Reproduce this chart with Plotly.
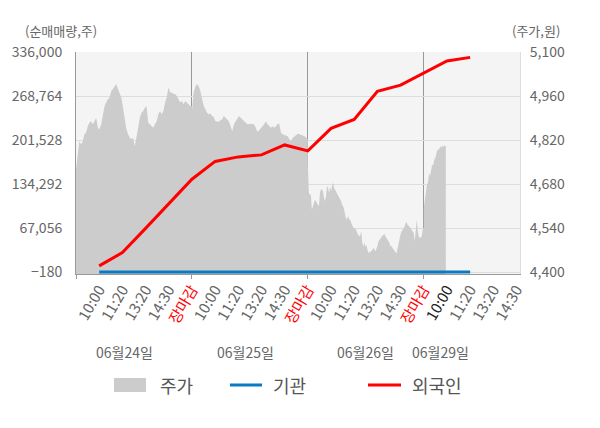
import numpy as np
import plotly.graph_objects as go

FONT = "Noto Sans CJK KR"

# x axis slots (5 per trading day)
TICK_TEXT = [
    "10:00", "11:20", "13:20", "14:30", "장마감",
    "10:00", "11:20", "13:20", "14:30", "장마감",
    "10:00", "11:20", "13:20", "14:30", "장마감",
    "10:00", "11:20", "13:20", "14:30",
]
DATES = ["06월24일", "06월25일", "06월26일", "06월29일"]
DATE_POS = [2.1, 7.3, 12.5, 15.7]
DAY_BOUNDS = [0, 5, 10, 15]

LEFT_TICKS = [-180, 67056, 134292, 201528, 268764, 336000]
RIGHT_TICKS = [4400, 4540, 4680, 4820, 4960, 5100]

# 주가 (intraday, one list per day)
price_d1 = [4726, 4780, 4816, 4806, 4816, 4838, 4844, 4864, 4875, 4880, 4870, 4880,
            4891, 4859, 4854, 4870, 4902, 4928, 4939, 4950, 4955, 4976, 4982, 4992,
            4998, 4982, 4971, 4955, 4923, 4886, 4854, 4838, 4827, 4822, 4827, 4800,
            4838, 4859, 4891, 4907, 4912, 4923, 4928, 4875, 4870, 4864, 4859, 4870,
            4880, 4902, 4912, 4902, 4912, 4939, 4955, 4987, 4971, 4971, 4966, 4966,
            4960, 4950, 4939, 4944, 4934, 4944, 4939, 4934, 4928, 4928]
price_d2 = [4912, 4971, 4989, 4998, 4992, 4976, 4950, 4928, 4918, 4907, 4902, 4904,
            4896, 4893, 4880, 4880, 4878, 4883, 4886, 4896, 4891, 4886, 4880, 4864,
            4848, 4870, 4880, 4886, 4896, 4891, 4886, 4880, 4875, 4870, 4870, 4872,
            4870, 4870, 4859, 4846, 4851, 4859, 4864, 4870, 4880, 4870, 4864, 4859,
            4864, 4859, 4864, 4872, 4872, 4843, 4838, 4836, 4836, 4832, 4822, 4816,
            4827, 4832, 4838, 4840, 4838, 4836, 4832, 4832, 4827, 4822]
price_d3 = [4742, 4651, 4646, 4646, 4598, 4609, 4614, 4630, 4625, 4620, 4614, 4609,
            4651, 4664, 4662, 4657, 4636, 4625, 4641, 4673, 4668, 4651, 4673, 4657,
            4673, 4685, 4668, 4662, 4651, 4646, 4641, 4636, 4632, 4625, 4614, 4609,
            4598, 4577, 4566, 4572, 4577, 4566, 4566, 4556, 4547, 4543, 4536, 4540,
            4529, 4524, 4518, 4513, 4518, 4529, 4492, 4481, 4494, 4481, 4486, 4476,
            4460, 4465, 4462, 4468, 4470, 4476, 4473, 4465, 4473, 4483, 4497, 4502,
            4508, 4513, 4515, 4518, 4521, 4513, 4508, 4502, 4497, 4492, 4481, 4483,
            4476, 4470, 4465, 4462, 4460, 4476, 4497, 4513, 4521, 4529, 4534, 4540,
            4545, 4556, 4558, 4550, 4547, 4543, 4540, 4534, 4529, 4524, 4497, 4532,
            4566, 4534, 4513, 4508, 4511, 4513, 4536, 4540]
price_d4 = [4604, 4636, 4662, 4678, 4685, 4715, 4705, 4721, 4742, 4739, 4758, 4763,
            4784, 4790, 4788, 4795, 4800, 4795, 4803, 4798, 4803, 4800]

# 순매매량 (cumulative), one point per slot from the first 10:00
flow_x = [1, 2, 3, 4, 5, 6, 7, 8, 9, 10, 11, 12, 13, 14, 15, 16, 17]
inst = [0, 0, 0, 0, 0, 0, 0, 0, 0, 0, 0, 0, 0, 0, 0, 0, 0]
foreign = [9200, 29500, 66500, 104700, 141600, 168800, 175700, 178800, 194000,
           184900, 219300, 233000, 275800, 285300, 304100, 322400, 327800]

GRAY = "#cccccc"
BLUE = "#0a7ac4"
RED = "#ff0000"


def price_series():
    xs, ys = [], []
    spans = [(0, 5), (5, 10), (10, 15), (15, 15.95)]
    for (a, b), day in zip(spans, [price_d1, price_d2, price_d3, price_d4]):
        xs.extend(np.linspace(a, b, len(day)))
        ys.extend(day)
    return xs, ys


def padded(ticks, px_below=2, px_span=220):
    # leave a couple of pixels under the lowest tick so the flat line is not clipped
    step = (ticks[-1] - ticks[0]) / px_span
    return [ticks[0] - px_below * step, ticks[-1]]


def tick_label(t, i):
    if t == "장마감":
        return '<span style="color:#ff0000">%s</span>' % t
    if i == 15:
        return '<span style="color:#222222">%s</span>' % t
    return t


fig = go.Figure()
px_, py_ = price_series()
fig.add_trace(go.Scatter(
    x=px_, y=py_, name="주가", mode="lines", line=dict(width=0, color=GRAY),
    fill="tozeroy", fillcolor=GRAY, yaxis="y",
))
fig.add_trace(go.Scatter(
    x=flow_x, y=inst, name="기관", mode="lines", line=dict(width=3, color=BLUE),
    yaxis="y2",
))
fig.add_trace(go.Scatter(
    x=flow_x, y=foreign, name="외국인", mode="lines", line=dict(width=3, color=RED),
    yaxis="y2",
))

annotations = [
    dict(text=d, x=p, y=-0.3514, xref="x", yref="paper", showarrow=False,
         font=dict(size=14, color="#666666"), xanchor="center", yanchor="middle")
    for d, p in zip(DATES, DATE_POS)
]
annotations += [
    dict(text="(순매매량,주)", x=-0.034, y=1.095, xref="paper", yref="paper",
         showarrow=False, font=dict(size=13, color="#666666"),
         xanchor="center", yanchor="middle"),
    dict(text="(주가,원)", x=1.036, y=1.095, xref="paper", yref="paper",
         showarrow=False, font=dict(size=13, color="#666666"),
         xanchor="center", yanchor="middle"),
]

# legend drawn by hand (box for the area, short lines for the flows)
LEG_Y = -0.5
shapes = [
    dict(type="rect", xref="paper", yref="paper", x0=0.0856, x1=0.1577,
         y0=-0.5315, y1=-0.4685, fillcolor=GRAY, line=dict(width=0)),
    dict(type="line", xref="paper", yref="paper", x0=0.3468, x1=0.4189,
         y0=LEG_Y, y1=LEG_Y, line=dict(color=BLUE, width=3)),
    dict(type="line", xref="paper", yref="paper", x0=0.6577, x1=0.7320,
         y0=LEG_Y, y1=LEG_Y, line=dict(color=RED, width=3)),
]
for name, lx in [("주가", 0.1847), ("기관", 0.4392), ("외국인", 0.7523)]:
    annotations.append(dict(text=name, x=lx, y=LEG_Y, xref="paper", yref="paper",
                            showarrow=False, xanchor="left", yanchor="middle",
                            font=dict(size=18, color="#555555")))

# the page adds an 8px body margin, so the figure is drawn 8px smaller
fig.update_layout(
    width=592, height=420, autosize=False, showlegend=False,
    margin=dict(l=68, r=80, t=44, b=154),
    paper_bgcolor="white", plot_bgcolor="#f4f4f4",
    font=dict(family=FONT, color="#666666", size=14),
    annotations=annotations, shapes=shapes,
    xaxis=dict(
        range=[0, 19.15], tickmode="array", automargin=False,
        tickvals=list(range(1, len(TICK_TEXT) + 1)),
        ticktext=[tick_label(t, i) for i, t in enumerate(TICK_TEXT)],
        tickangle=-60, ticks="", showgrid=False, zeroline=False,
        showline=True, linecolor="#999999", tickfont=dict(size=15, color="#666666"),
        ticklabelstandoff=0,
        minor=dict(tickmode="array", tickvals=DAY_BOUNDS, showgrid=True,
                   gridcolor="#999999", gridwidth=1, ticks="outside", ticklen=4,
                   tickcolor="#999999"),
    ),
    yaxis=dict(
        side="right", range=padded(RIGHT_TICKS), tickmode="array",
        tickvals=RIGHT_TICKS, tickformat=",",
        showgrid=True, gridcolor="#dddddd", zeroline=False, showline=True,
        linecolor="#dddddd", tickfont=dict(size=14, color="#666666"),
        ticklabelstandoff=6, automargin=False,
    ),
    yaxis2=dict(
        overlaying="y", side="left", range=padded(LEFT_TICKS), tickmode="array",
        tickvals=LEFT_TICKS, tickformat=",", showgrid=False, zeroline=False,
        showline=True, linecolor="#999999", tickfont=dict(size=14, color="#666666"),
        ticklabelstandoff=10, automargin=False,
    ),
)

fig.write_html("out.html")
